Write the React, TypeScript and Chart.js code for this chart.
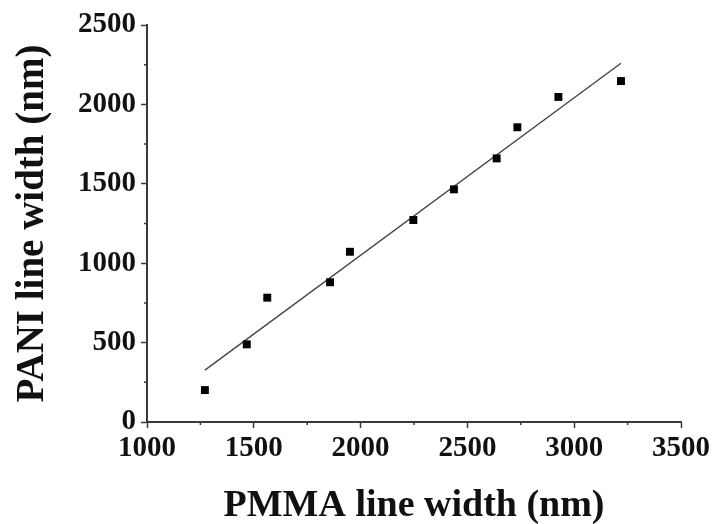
import React, { useEffect, useRef } from "react";
import { Chart, registerables } from "chart.js";

Chart.register(...registerables);

const pmmaWidth = [1271, 1467, 1563, 1857, 1950, 2247, 2437, 2637, 2734, 2926, 3219];
const paniWidth = [201, 489, 783, 880, 1072, 1272, 1465, 1660, 1856, 2047, 2147];
const fitX = [1271, 3219];
const fitY = [327, 2259];
const xTicks = [1000, 1500, 2000, 2500, 3000, 3500];
const yTicks = [0, 500, 1000, 1500, 2000, 2500];

const AXIS = "#3a3a3a";
const FONT = "'Liberation Serif', 'Times New Roman', serif";

const minorTicks = {
  id: "minorTicks",
  afterDraw(chart: any) {
    const ctx = chart.ctx;
    const xs = chart.scales.x;
    const ys = chart.scales.y;
    ctx.save();
    ctx.strokeStyle = AXIS;
    ctx.lineWidth = 1.5;
    ctx.beginPath();
    for (let i = 0; i < xTicks.length - 1; i++) {
      const v = (xTicks[i] + xTicks[i + 1]) / 2;
      const px = xs.getPixelForValue(v);
      ctx.moveTo(px, xs.top);
      ctx.lineTo(px, xs.top + 3);
    }
    for (let i = 0; i < yTicks.length - 1; i++) {
      const v = (yTicks[i] + yTicks[i + 1]) / 2;
      const py = ys.getPixelForValue(v);
      ctx.moveTo(ys.right, py);
      ctx.lineTo(ys.right - 3, py);
    }
    ctx.stroke();
    ctx.restore();
  },
};

export default function App() {
  const ref = useRef<HTMLCanvasElement>(null);
  useEffect(() => {
    if (!ref.current) return;
    const chart = new Chart(ref.current, {
      type: "scatter",
      data: {
        datasets: [
          {
            label: "data",
            data: pmmaWidth.map((x, i) => ({ x, y: paniWidth[i] })),
            pointStyle: "rect",
            pointRadius: 5.6,
            pointHoverRadius: 5.6,
            backgroundColor: "#000",
            borderColor: "#000",
            borderWidth: 0,
            showLine: false,
          },
          {
            label: "fit",
            data: fitX.map((x, i) => ({ x, y: fitY[i] })),
            showLine: true,
            pointRadius: 0,
            borderColor: "#444",
            borderWidth: 1.4,
            backgroundColor: "#444",
          },
        ],
      },
      plugins: [minorTicks],
      options: {
        animation: false,
        responsive: false,
        maintainAspectRatio: false,
        layout: { padding: { top: 25, right: 35, left: 0, bottom: 0 } },
        plugins: { legend: { display: false }, tooltip: { enabled: false } },
        scales: {
          x: {
            type: "linear",
            min: 1000,
            max: 3500,
            afterBuildTicks: (s: any) => {
              s.ticks = xTicks.map((v) => ({ value: v }));
            },
            afterFit: (s: any) => {
              s.height = 102;
              s.paddingLeft = 0;
              s.paddingRight = 0;
            },
            border: { display: true, color: AXIS, width: 2 },
            grid: {
              drawOnChartArea: false,
              drawTicks: true,
              tickLength: 6,
              tickColor: AXIS,
              tickWidth: 1.5,
            },
            ticks: {
              color: "#111",
              padding: 3,
              maxRotation: 0,
              callback: (v: any) => String(v),
              font: { family: FONT, size: 29, weight: "bold" },
            },
            title: {
              display: true,
              text: "PMMA line width (nm)",
              color: "#111",
              font: { family: FONT, size: 38, weight: "bold", lineHeight: 1 },
              padding: { top: 0, bottom: -1 },
            },
          },
          y: {
            type: "linear",
            min: 0,
            max: 2500,
            afterBuildTicks: (s: any) => {
              s.ticks = yTicks.map((v) => ({ value: v }));
            },
            afterFit: (s: any) => {
              s.width = 147;
              s.paddingTop = 0;
              s.paddingBottom = 0;
            },
            border: { display: true, color: AXIS, width: 2 },
            grid: {
              drawOnChartArea: false,
              drawTicks: true,
              tickLength: 6,
              tickColor: AXIS,
              tickWidth: 1.5,
            },
            ticks: {
              color: "#111",
              padding: 5,
              callback: (v: any) => String(v),
              font: { family: FONT, size: 29, weight: "bold" },
            },
            title: {
              display: true,
              text: "PANI line width (nm)",
              color: "#111",
              font: { family: FONT, size: 39, weight: "bold", lineHeight: 1 },
              padding: { top: 13, bottom: 0 },
            },
          },
        },
      },
    });
    return () => chart.destroy();
  }, []);
  return (
    <div style={{ position: "fixed", left: 0, top: 0, width: 716, height: 524, background: "#fff" }}>
      <canvas ref={ref} width={716} height={524} style={{ width: 716, height: 524, display: "block" }} />
    </div>
  );
}
